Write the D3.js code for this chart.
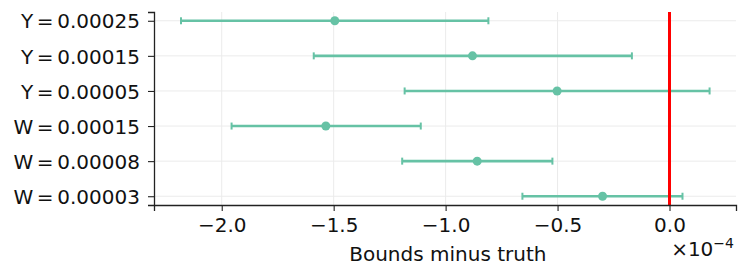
<!DOCTYPE html>
<html>
<head>
<meta charset="utf-8">
<script src="https://cdn.jsdelivr.net/npm/d3@7"></script>
<style>
  body { margin: 0; background: #fff; }
  svg { font-family: "DejaVu Sans", sans-serif; }
</style>
</head>
<body>
<svg width="748" height="276"></svg>
<script>
// rows from bottom to top, values in units of 1e-4
const labels = ["W = 0.00003", "W = 0.00008", "W = 0.00015", "Y = 0.00005", "Y = 0.00015", "Y = 0.00025"];
const estimates = [-0.299, -0.859, -1.535, -0.502, -0.880, -1.495];
const lower = [-0.657, -1.194, -1.956, -1.183, -1.589, -2.182];
const upper = [0.058, -0.523, -1.111, 0.179, -0.168, -0.809];
const xTicks = [-2.0, -1.5, -1.0, -0.5, 0.0];

const svg = d3.select("svg");
const margin = { top: 12, right: 12, bottom: 71, left: 154 };
const width = 748, height = 276;
const innerWidth = width - margin.left - margin.right;
const innerHeight = height - margin.top - margin.bottom;

const data = labels.map((l, i) => ({ label: l, est: estimates[i], lo: lower[i], hi: upper[i], i }));

const xScale = d3.scaleLinear().domain([-2.3025, 0.297]).range([0, innerWidth]);
const yScale = d3.scaleLinear().domain([-0.25, 5.25]).range([innerHeight, 0]);

const g = svg.append("g").attr("transform", `translate(${margin.left}, ${margin.top})`);

// grid
g.append("g").selectAll("line").data(xTicks).enter().append("line")
  .attr("x1", d => xScale(d)).attr("x2", d => xScale(d))
  .attr("y1", 0).attr("y2", innerHeight)
  .attr("stroke", "#ebebeb").attr("stroke-width", 1);
g.append("g").selectAll("line").data(data).enter().append("line")
  .attr("x1", 0).attr("x2", innerWidth)
  .attr("y1", d => yScale(d.i)).attr("y2", d => yScale(d.i))
  .attr("stroke", "#ebebeb").attr("stroke-width", 1);

// error bars
const color = "#66c2a5";
const bars = g.append("g");
bars.selectAll(".bar").data(data).enter().append("line")
  .attr("x1", d => xScale(d.lo)).attr("x2", d => xScale(d.hi))
  .attr("y1", d => yScale(d.i)).attr("y2", d => yScale(d.i))
  .attr("stroke", color).attr("stroke-width", 2.6);
bars.selectAll(".capl").data(data).enter().append("line")
  .attr("x1", d => xScale(d.lo)).attr("x2", d => xScale(d.lo))
  .attr("y1", d => yScale(d.i) - 3.5).attr("y2", d => yScale(d.i) + 3.5)
  .attr("stroke", color).attr("stroke-width", 2);
bars.selectAll(".caph").data(data).enter().append("line")
  .attr("x1", d => xScale(d.hi)).attr("x2", d => xScale(d.hi))
  .attr("y1", d => yScale(d.i) - 3.5).attr("y2", d => yScale(d.i) + 3.5)
  .attr("stroke", color).attr("stroke-width", 2);
bars.selectAll("circle").data(data).enter().append("circle")
  .attr("cx", d => xScale(d.est)).attr("cy", d => yScale(d.i))
  .attr("r", 4.5).attr("fill", color);

// red reference line at zero
g.append("line")
  .attr("x1", xScale(0)).attr("x2", xScale(0))
  .attr("y1", 0).attr("y2", innerHeight)
  .attr("stroke", "#ff0000").attr("stroke-width", 3);

// axes
const xAxis = g.append("g")
  .attr("transform", `translate(0, ${innerHeight})`)
  .call(d3.axisBottom(xScale).tickValues(xTicks).tickFormat(d => d3.format(".1f")(d).replace("-", "\u2212")).tickSizeOuter(0).tickSize(6).tickPadding(7));
const yAxis = g.append("g")
  .call(d3.axisLeft(yScale).tickValues(d3.range(labels.length)).tickFormat(i => labels[i]).tickSizeOuter(0).tickSize(6).tickPadding(8));

[xAxis, yAxis].forEach(a => {
  a.attr("font-size", null).attr("font-family", null);
  a.select(".domain").attr("stroke", "#222").attr("stroke-width", 1.3);
  a.selectAll(".tick line").attr("stroke", "#222").attr("stroke-width", 1.1);
  a.selectAll("text").style("font-size", "20px").attr("fill", "#111");
});
yAxis.selectAll("text").attr("dy", "0.36em").style("word-spacing", "-2.7px");
xAxis.selectAll("text").attr("dy", "0.71em");

// axis label
svg.append("text")
  .attr("x", margin.left + xScale(-0.99)).attr("y", 261)
  .attr("text-anchor", "middle").style("font-size", "20px").attr("fill", "#111")
  .text("Bounds minus truth");

// offset text
const off = svg.append("text")
  .attr("x", 734).attr("y", 256)
  .attr("text-anchor", "end").style("font-size", "20px").attr("fill", "#111");
off.append("tspan").text("\u00d710");
off.append("tspan").attr("dy", -8).style("font-size", "14px").text("\u22124");
</script>
</body>
</html>
